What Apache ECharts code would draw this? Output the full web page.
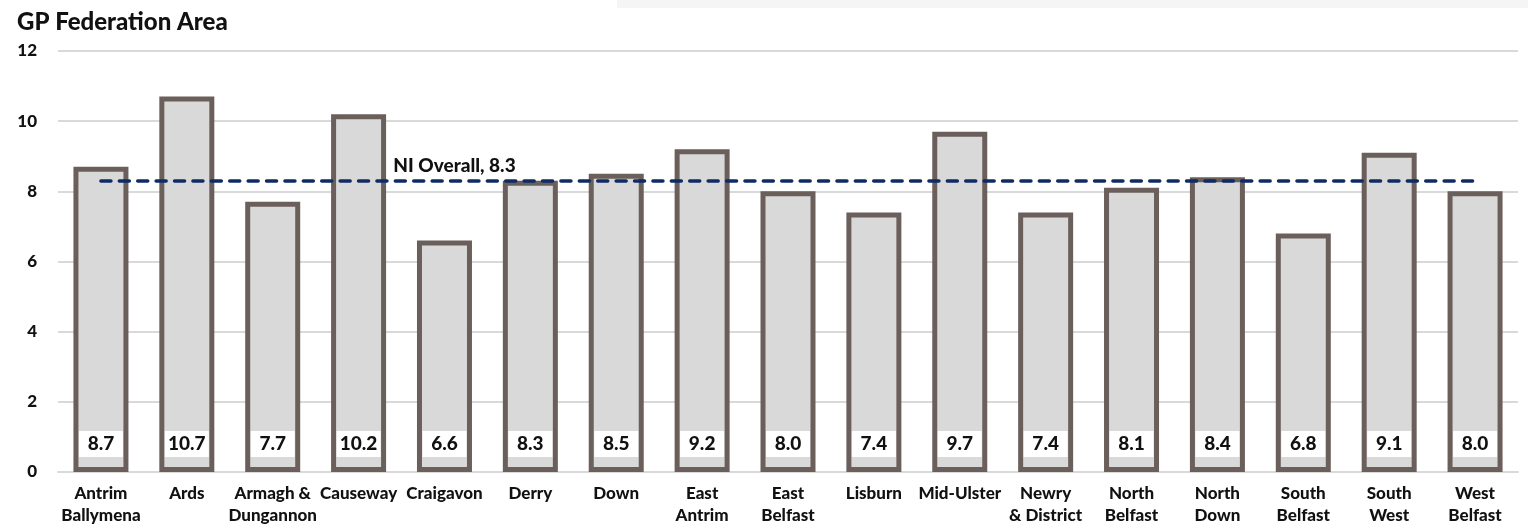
<!DOCTYPE html>
<html>
<head>
<meta charset="utf-8">
<script src="https://cdn.jsdelivr.net/npm/echarts@6/dist/echarts.min.js"></script>
<style>
html,body{margin:0;padding:0;background:#fff;}
#c{width:1528px;height:527px;}
</style>
</head>
<body>
<div id="c"></div>
<script>
const categories = ["Antrim\nBallymena","Ards","Armagh &\nDungannon","Causeway","Craigavon","Derry","Down","East\nAntrim","East\nBelfast","Lisburn","Mid-Ulster","Newry\n& District","North\nBelfast","North\nDown","South\nBelfast","South\nWest","West\nBelfast"];
const values = [8.7,10.7,7.7,10.2,6.6,8.3,8.5,9.2,8.0,7.4,9.7,7.4,8.1,8.4,6.8,9.1,8.0];
const niOverall = 8.3;
const niLabel = "NI Overall";
const yTicks = [0,2,4,6,8,10,12];
const titleText = "GP Federation Area";

const FONT = "Lato";
const W = 900;
const chart = echarts.init(document.getElementById('c'), null, {renderer:'canvas'});
chart.setOption({
  animation:false,
  backgroundColor:'#fff',
  title:{text:titleText,left:12,top:5,textStyle:{fontFamily:FONT,fontWeight:W,fontSize:24,color:'#111'}},
  graphic:[{type:'rect',left:617,top:0,shape:{width:911,height:8},style:{fill:'#f5f5f5'},silent:true}],
  grid:{left:58,right:10,top:51,bottom:55,containLabel:false,outerBoundsMode:'none'},
  xAxis:{type:'category',data:categories,
    axisLine:{show:true,lineStyle:{color:'#d9d9d9',width:2}},
    axisTick:{show:false},
    axisLabel:{interval:0,fontFamily:FONT,fontWeight:W,fontSize:17,color:'#111',lineHeight:22,margin:11}},
  yAxis:{type:'value',min:yTicks[0],max:yTicks[yTicks.length-1],interval:2,
    axisLine:{show:false},axisTick:{show:false},
    splitLine:{lineStyle:{color:'#d9d9d9',width:2}},
    axisLabel:{fontFamily:FONT,fontWeight:W,fontSize:17,color:'#111',margin:21}},
  series:[{
    type:'bar',data:values,barWidth:55,
    itemStyle:{color:'#d9d9d9',borderColor:'#6b5f5b',borderWidth:5},
    label:{show:true,position:'insideBottom',distance:15,
      formatter:p=>p.value.toFixed(1),
      backgroundColor:'#fff',width:44,height:26,lineHeight:26,align:'center',
      fontFamily:FONT,fontWeight:W,fontSize:19,color:'#111'},
    markLine:{silent:true,symbol:['none','none'],
      lineStyle:{color:'#0f2b64',width:3.5,type:[10,8.4],cap:'round'},
      label:{show:false},
      data:[[{coord:[0,niOverall]},{coord:[categories.length-1,niOverall]}]]},
    markPoint:{silent:true,symbol:'circle',symbolSize:1,itemStyle:{color:'rgba(0,0,0,0)'},
      data:[{coord:[4,niOverall],value:niOverall}],
      label:{show:true,position:'inside',formatter:niLabel+', '+niOverall.toFixed(1),offset:[10,-15],
        fontFamily:FONT,fontWeight:W,fontSize:19,color:'#111'}}
  }]
});
</script>
</body>
</html>
